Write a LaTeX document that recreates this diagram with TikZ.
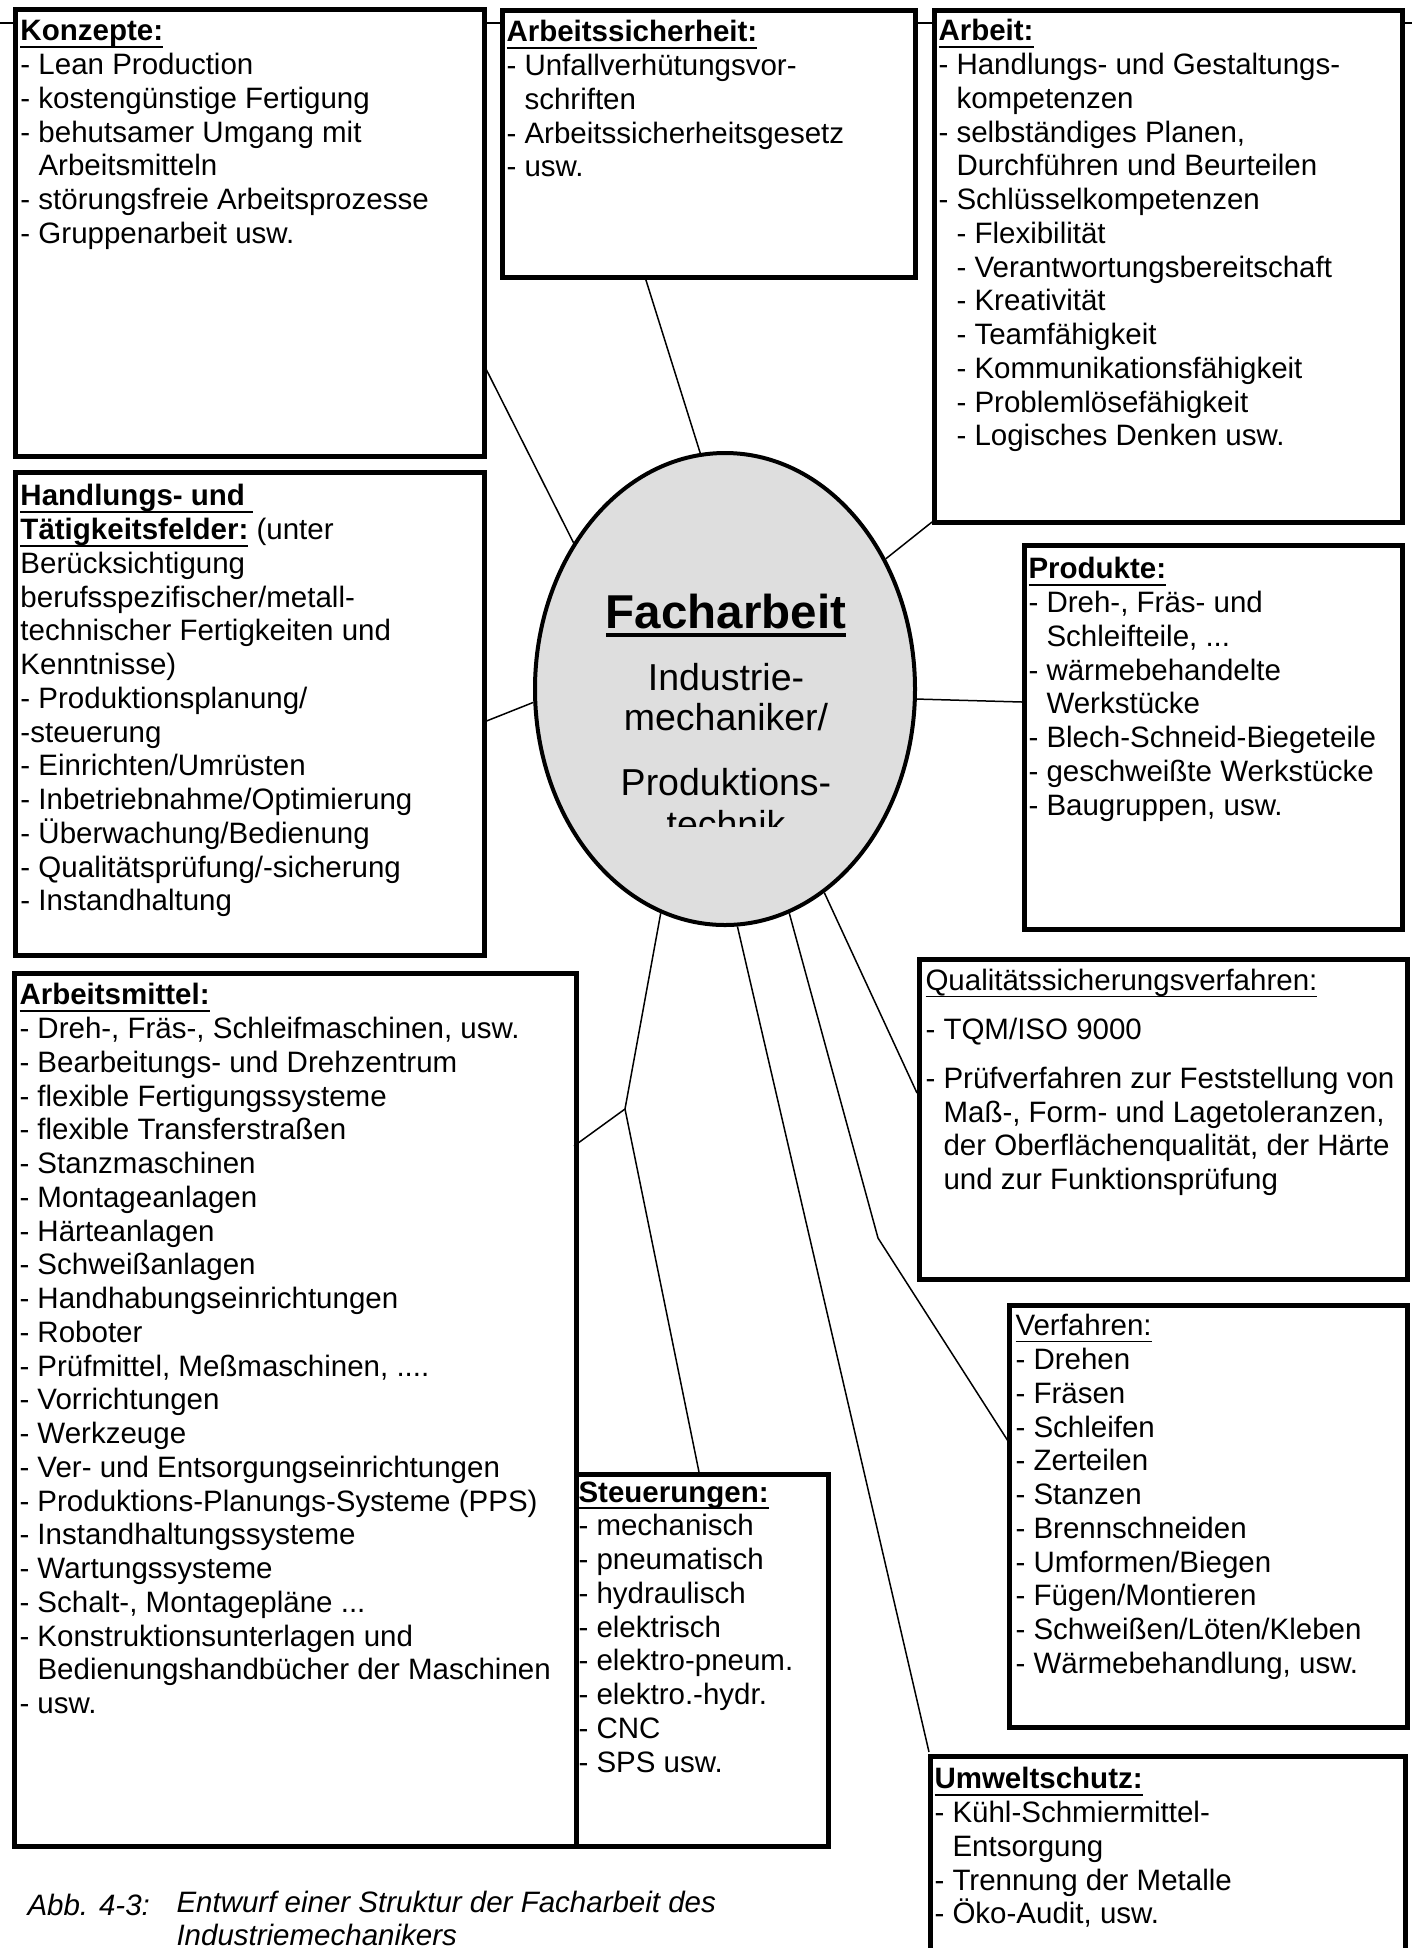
\documentclass[tikz,border=0pt]{standalone}
\usepackage{fontspec}
\setmainfont{Liberation Sans}
\usetikzlibrary{shapes.geometric}
\newsavebox\ulbox
\newcommand\bul[1]{\sbox\ulbox{\bfseries #1}\rlap{\rule[-2.9pt]{\wd\ulbox}{0.9pt}}\usebox\ulbox}
\newcommand\rul[1]{\sbox\ulbox{#1}\rlap{\rule[-2.6pt]{\wd\ulbox}{0.6pt}}\usebox\ulbox}
\newcommand\ind{\hphantom{- }}
\newcommand\bodyfont{\fontsize{11.8}{13.5}\selectfont}
\tikzset{
  box/.style={draw, line width=2pt, fill=white, rectangle, inner sep=0pt, anchor=north west},
  txt/.style={anchor=north west, inner sep=0pt, align=left, font=\bodyfont, execute at begin node=\strut},
  conn/.style={line width=0.6pt},
}
\begin{document}
\begin{tikzpicture}[x=0.4pt, y=-0.4pt]
\useasboundingbox[fill=white] (0,0) rectangle (1412,1948);
% header rule
\coordinate (hl) at (0,23);
\coordinate (hr) at (1412,23);
\draw[line width=0.8pt] (hl) -- (hr);

% central ellipse
\node[ellipse, draw, line width=1.6pt, fill=black!13, minimum width=152pt, minimum height=188.8pt, inner sep=0pt] (ell) at (725,689) {};
\node[anchor=base, inner sep=0pt, font=\fontsize{19}{23}\selectfont\bfseries] (fach) at (726,628)
  {\sbox\ulbox{Facharbeit}\rlap{\rule[-3.6pt]{\wd\ulbox}{1.8pt}}\usebox\ulbox};
\begin{scope}
\clip (540,640) rectangle (910,826);
\node[anchor=base, inner sep=0pt, font=\fontsize{15}{16}\selectfont] (ind1) at (726,690) {Industrie-};
\node[anchor=base, inner sep=0pt, font=\fontsize{15}{16}\selectfont] (ind2) at (726,730) {mechaniker/};
\node[anchor=base, inner sep=0pt, font=\fontsize{15}{16}\selectfont] (ind3) at (726,795) {Produktions-};
\node[anchor=base, inner sep=0pt, font=\fontsize{15}{16}\selectfont] (ind4) at (726,837) {technik};
\end{scope}

% boxes
\node[box, minimum width=187.6pt, minimum height=178.8pt] (konz) at (13,7) {};
\node[box, minimum width=165.2pt, minimum height=106.8pt] (asich) at (500,8) {};
\node[box, minimum width=187.2pt, minimum height=204.8pt] (arb) at (932,8) {};
\node[box, minimum width=187.6pt, minimum height=193.2pt] (hand) at (13,470) {};
\node[box, minimum width=151.2pt, minimum height=153.6pt] (prod) at (1022,543) {};
\node[box, minimum width=195.2pt, minimum height=128pt] (qual) at (917,957) {};
\node[box, minimum width=159.2pt, minimum height=168.8pt] (verf) at (1007,1303) {};
\node[box, minimum width=224.8pt, minimum height=349.2pt] (amit) at (12,971) {};
\node[box, minimum width=100.8pt, minimum height=148.8pt] (steu) at (574,1472) {};
\node[box, minimum width=190pt, minimum height=100pt] (umw) at (928,1754) {};

% texts
\node[txt] (tkonz) at (20,20) {\bul{Konzepte:}\\
- Lean Production\\
- kostengünstige Fertigung\\
- behutsamer Umgang mit\\
\ind Arbeitsmitteln\\
- störungsfreie Arbeitsprozesse\\
- Gruppenarbeit usw.};

\node[txt] (tasich) at (506,20) {\bul{Arbeitssicherheit:}\\
- Unfallverhütungsvor-\\
\ind schriften\\
- Arbeitssicherheitsgesetz\\
- usw.};

\node[txt] (tarb) at (938,19) {\bul{Arbeit:}\\
- Handlungs- und Gestaltungs-\\
\ind kompetenzen\\
- selbständiges Planen,\\
\ind Durchführen und Beurteilen\\
- Schlüsselkompetenzen\\
\ind - Flexibilität\\
\ind - Verantwortungsbereitschaft\\
\ind - Kreativität\\
\ind - Teamfähigkeit\\
\ind - Kommunikationsfähigkeit\\
\ind - Problemlösefähigkeit\\
\ind - Logisches Denken usw.};

\node[txt] (thand) at (20,484) {\bul{Handlungs- und }\\
\bul{Tätigkeitsfelder:} (unter\\
Berücksichtigung\\
berufsspezifischer/metall-\\
technischer Fertigkeiten und\\
Kenntnisse)\\
- Produktionsplanung/\\
-steuerung\\
- Einrichten/Umrüsten\\
- Inbetriebnahme/Optimierung\\
- Überwachung/Bedienung\\
- Qualitätsprüfung/-sicherung\\
- Instandhaltung};

\node[txt] (tprod) at (1028,557) {\bul{Produkte:}\\
- Dreh-, Fräs- und\\
\ind Schleifteile, ...\\
- wärmebehandelte\\
\ind Werkstücke\\
- Blech-Schneid-Biegeteile\\
- geschweißte Werkstücke\\
- Baugruppen, usw.};

\node[txt] (tqual) at (925,969) {\rul{Qualitätssicherungsverfahren:}\\[6pt]
- TQM/ISO 9000\\[6pt]
- Prüfverfahren zur Feststellung von\\
\ind Maß-, Form- und Lagetoleranzen,\\
\ind der Oberflächenqualität, der Härte\\
\ind und zur Funktionsprüfung};

\node[txt] (tverf) at (1015,1314) {\rul{Verfahren:}\\
- Drehen\\
- Fräsen\\
- Schleifen\\
- Zerteilen\\
- Stanzen\\
- Brennschneiden\\
- Umformen/Biegen\\
- Fügen/Montieren\\
- Schweißen/Löten/Kleben\\
- Wärmebehandlung, usw.};

\node[txt] (tamit) at (19,983) {\bul{Arbeitsmittel:}\\
- Dreh-, Fräs-, Schleifmaschinen, usw.\\
- Bearbeitungs- und Drehzentrum\\
- flexible Fertigungssysteme\\
- flexible Transferstraßen\\
- Stanzmaschinen\\
- Montageanlagen\\
- Härteanlagen\\
- Schweißanlagen\\
- Handhabungseinrichtungen\\
- Roboter\\
- Prüfmittel, Meßmaschinen, ....\\
- Vorrichtungen\\
- Werkzeuge\\
- Ver- und Entsorgungseinrichtungen\\
- Produktions-Planungs-Systeme (PPS)\\
- Instandhaltungssysteme\\
- Wartungssysteme\\
- Schalt-, Montagepläne ...\\
- Konstruktionsunterlagen und\\
\ind Bedienungshandbücher der Maschinen\\
- usw.};

\node[txt] (tsteu) at (578,1481) {\bul{Steuerungen:}\\
- mechanisch\\
- pneumatisch\\
- hydraulisch\\
- elektrisch\\
- elektro-pneum.\\
- elektro.-hydr.\\
- CNC\\
- SPS usw.};

\node[txt] (tumw) at (934,1767) {\bul{Umweltschutz:}\\
- Kühl-Schmiermittel-\\
\ind Entsorgung\\
- Trennung der Metalle\\
- Öko-Audit, usw.};

% caption
\node[anchor=north west, inner sep=0pt, font=\bodyfont\itshape, execute at begin node=\strut] (cap1) at (27,1891) {Abb. 4-3:};
\node[anchor=north west, inner sep=0pt, align=left, font=\fontsize{11.8}{13}\selectfont\itshape, execute at begin node=\strut] (cap2) at (176,1891) {Entwurf einer Struktur der Facharbeit des\\Industriemechanikers};

% connector end points
\coordinate (ek) at (483,363);
\coordinate (ea) at (645,277);
\coordinate (er) at (932,522);
\coordinate (eh) at (484,722);
\coordinate (ep) at (1022,702);
\coordinate (eq) at (917,1093);
\coordinate (vb) at (878,1238);
\coordinate (ev) at (1008,1441);
\coordinate (eu) at (929,1752);
\coordinate (jn) at (625,1109);
\coordinate (em) at (574,1146);
\coordinate (es) at (699,1472);

\draw[conn] (ell.136.3) -- (ek);
\draw[conn] (ell.96.5) -- (ea);
\draw[conn] (ell.39.9) -- (er);
\draw[conn] (ell.-176.1) -- (eh);
\draw[conn] (ell.-3.9) -- (ep);
\draw[conn] (ell.-64.1) -- (eq);
\draw[conn] (ell.-74.1) -- (vb) -- (ev);
\draw[conn] (ell.-87.3) -- (eu);
\draw[conn] (ell.-106) -- (jn) -- (em);
\draw[conn] (jn) -- (es);
\end{tikzpicture}
\end{document}
